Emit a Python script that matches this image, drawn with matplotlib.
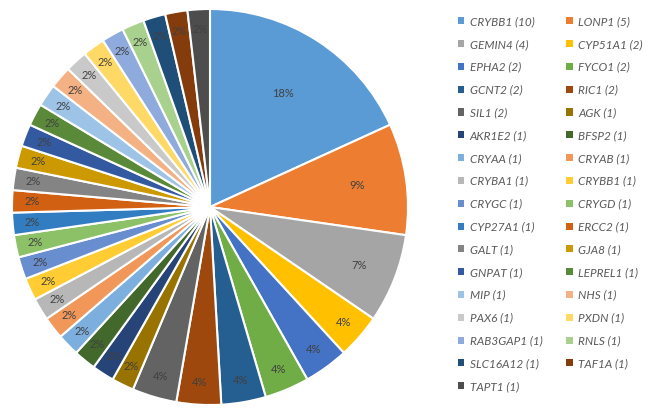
import numpy as np
import matplotlib
matplotlib.use("Agg")
import matplotlib.pyplot as plt
from matplotlib.patches import Patch

genes = ["CRYBB1", "LONP1", "GEMIN4", "CYP51A1", "EPHA2", "FYCO1", "GCNT2", "RIC1",
         "SIL1", "AGK", "AKR1E2", "BFSP2", "CRYAA", "CRYAB", "CRYBA1", "CRYBB1",
         "CRYGC", "CRYGD", "CYP27A1", "ERCC2", "GALT", "GJA8", "GNPAT", "LEPREL1",
         "MIP", "NHS", "PAX6", "PXDN", "RAB3GAP1", "RNLS", "SLC16A12", "TAF1A", "TAPT1"]
counts = [10, 5, 4, 2, 2, 2, 2, 2, 2, 1, 1, 1, 1, 1, 1, 1, 1, 1, 1, 1, 1, 1, 1, 1,
          1, 1, 1, 1, 1, 1, 1, 1, 1]

# Office-style palette
colors = ["#5B9BD5", "#ED7D31", "#A5A5A5", "#FFC000", "#4472C4", "#70AD47",
          "#255E91", "#9E480E", "#636363", "#997300", "#264478", "#43682B",
          "#7CAFDD", "#F1975A", "#B7B7B7", "#FFCD33", "#698ED0", "#8CC168",
          "#327DC2", "#D26012", "#848484", "#CC9A00", "#335AA1", "#5A8A39",
          "#9DC3E6", "#F4B183", "#C9C9C9", "#FFD966", "#8FAADC", "#A9D18E",
          "#1F4E79", "#843C0C", "#4D4D4D"]

# radial position of percent labels by wedge size
label_r = {10: 0.68, 5: 0.75, 4: 0.81, 2: 0.89, 1: 0.90}

plt.rcParams['font.family'] = ['Lato', 'DejaVu Sans']

fig = plt.figure(figsize=(6.51, 4.20), dpi=100)
ax = fig.add_axes([12 / 651, 15 / 420, 396 / 651, 396 / 420])

wedges, _ = ax.pie(counts, colors=colors, startangle=90, counterclock=False,
                   wedgeprops=dict(edgecolor="white", linewidth=1.5))
ax.set_xlim(-1, 1)
ax.set_ylim(-1, 1)

total = sum(counts)
for w, c in zip(wedges, counts):
    mid = np.deg2rad((w.theta1 + w.theta2) / 2)
    r = label_r[c]
    ax.text(r * np.cos(mid), r * np.sin(mid), f"{round(100 * c / total)}%",
            ha="center", va="center", fontsize=8, color="#404040")

labels = [f"{g} ({c})" for g, c in zip(genes, counts)]
handles = [Patch(facecolor=col, edgecolor="none") for col in colors]
order = list(range(0, len(labels), 2)) + list(range(1, len(labels), 2))
leg = fig.legend([handles[i] for i in order], [labels[i] for i in order],
                 ncol=2, loc="upper left", bbox_to_anchor=(458 / 651, 1 - 16 / 420),
                 frameon=False, fontsize=8.5, handlelength=0.55, handleheight=0.55,
                 handletextpad=0.45, labelspacing=1.0, columnspacing=2.0,
                 borderaxespad=0, borderpad=0)
for t in leg.get_texts():
    t.set_color("#595959")
    t.set_fontstyle("italic")

fig.savefig("out.png", dpi=100)
